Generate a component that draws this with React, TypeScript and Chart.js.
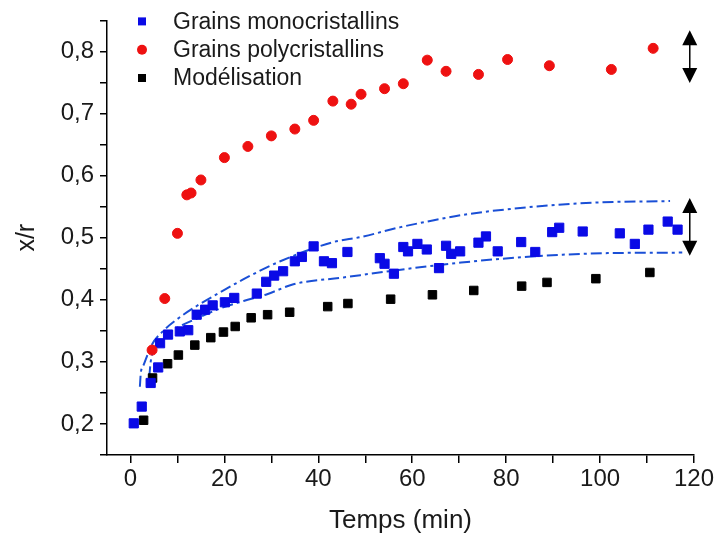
import React, { useEffect, useRef } from 'react';
import { Chart, registerables } from 'chart.js';

Chart.register(...registerables);

const FONT = '"Liberation Sans", Arial, Helvetica, sans-serif';

// Series labels
const monoLabel = 'Grains monocristallins';
const polyLabel = 'Grains polycristallins';
const modelLabel = 'Modélisation';

// Grains monocristallins (blue squares)
const monoX = [0.7, 2.4, 4.3, 5.9, 6.3, 8.0, 10.5, 12.3, 14.1, 15.9, 17.5, 20.1, 22.1, 26.9, 28.9, 30.6, 32.5, 35.0, 36.5, 39.0, 41.2, 42.9, 46.2, 53.1, 54.1, 56.1, 58.1, 59.1, 61.1, 63.1, 65.7, 67.2, 68.3, 70.2, 74.1, 75.7, 78.2, 83.2, 86.2, 89.8, 91.3, 96.3, 104.2, 107.4, 110.3, 114.4, 116.5];
const monoY = [0.201, 0.228, 0.266, 0.291, 0.330, 0.344, 0.349, 0.351, 0.376, 0.384, 0.391, 0.396, 0.403, 0.410, 0.429, 0.439, 0.446, 0.462, 0.469, 0.486, 0.462, 0.459, 0.477, 0.467, 0.458, 0.442, 0.485, 0.478, 0.490, 0.481, 0.451, 0.487, 0.474, 0.478, 0.492, 0.502, 0.478, 0.493, 0.477, 0.509, 0.516, 0.510, 0.507, 0.490, 0.513, 0.526, 0.513];

// Grains polycristallins (red circles)
const polyX = [4.6, 7.3, 10.0, 12.0, 12.9, 15.0, 20.0, 25.0, 30.0, 35.0, 39.0, 43.1, 47.0, 49.1, 54.1, 58.1, 63.2, 67.2, 74.1, 80.3, 89.2, 102.4, 111.3];
const polyY = [0.319, 0.402, 0.507, 0.569, 0.572, 0.593, 0.629, 0.647, 0.664, 0.675, 0.689, 0.720, 0.715, 0.731, 0.740, 0.748, 0.786, 0.768, 0.763, 0.787, 0.777, 0.771, 0.805];

// Modélisation (black squares)
const modelX = [2.8, 4.7, 7.9, 10.2, 13.7, 17.1, 19.8, 22.3, 25.7, 29.2, 33.9, 42.0, 46.3, 55.4, 64.3, 73.1, 83.3, 88.7, 99.1, 110.6];
const modelY = [0.206, 0.274, 0.297, 0.311, 0.327, 0.339, 0.348, 0.357, 0.371, 0.376, 0.380, 0.389, 0.394, 0.401, 0.408, 0.415, 0.422, 0.428, 0.434, 0.444];

// Dash-dot envelope curves
const upperX = [2.0, 2.2, 2.8, 4.5, 7.0, 9.8, 14.1, 19.1, 24.8, 31.9, 43.2, 49.0, 57.5, 63.2, 71.9, 86.1, 100.4, 114.9];
const upperY = [0.260, 0.282, 0.295, 0.327, 0.350, 0.368, 0.390, 0.412, 0.436, 0.462, 0.493, 0.501, 0.517, 0.526, 0.538, 0.550, 0.557, 0.559];
const lowerX = [4.0, 4.3, 5.5, 7.0, 9.1, 14.8, 19.1, 24.1, 29.1, 34.7, 45.4, 56.1, 70.4, 86.1, 100.4, 117.5];
const lowerY = [0.275, 0.300, 0.325, 0.338, 0.351, 0.372, 0.386, 0.398, 0.409, 0.425, 0.436, 0.447, 0.460, 0.470, 0.475, 0.476];

// Double arrows on the right (x position, [low, high])
const arrowX = 119.1;
const arrowRanges = [[0.749, 0.834], [0.471, 0.564]];

// Axes
const xMin = -5;
const xMax = 120;
const yMin = 0.15;
const yMax = 0.85;
const xTickValues = [0, 10, 20, 30, 40, 50, 60, 70, 80, 90, 100, 110, 120];
const xMajor = [0, 20, 40, 60, 80, 100, 120];
const xLabels = ['0', '20', '40', '60', '80', '100', '120'];
const yTickValues = [0.15, 0.2, 0.25, 0.3, 0.35, 0.4, 0.45, 0.5, 0.55, 0.6, 0.65, 0.7, 0.75, 0.8, 0.85];
const yMajor = [0.2, 0.3, 0.4, 0.5, 0.6, 0.7, 0.8];
const yLabels = ['0,2', '0,3', '0,4', '0,5', '0,6', '0,7', '0,8'];
const xTitle = 'Temps (min)';
const yTitle = 'x/r';

const BLUE = '#0a0ae6';
const RED = '#ee1111';
const BLACK = '#000000';
const CURVE = '#1a4fd6';
const TEXT = '#1a1a1a';

const pts = (xs: number[], ys: number[]) => xs.map((x, i) => ({ x, y: ys[i] }));
const labelFor = (v: number, majors: number[], labels: string[]) => {
  const i = majors.findIndex((m) => Math.abs(m - v) < 1e-6);
  return i >= 0 ? labels[i] : '';
};

export default function App() {
  const ref = useRef<HTMLCanvasElement>(null);

  useEffect(() => {
    const canvas = ref.current;
    if (!canvas) return;

    const legendPlugin = {
      id: 'inlineLegend',
      afterDraw(chart: any) {
        const { ctx, chartArea } = chart;
        const items = chart.data.datasets.filter((d: any) => d.inLegend);
        ctx.save();
        ctx.font = `23px ${FONT}`;
        ctx.textBaseline = 'middle';
        ctx.textAlign = 'left';
        items.forEach((d: any, i: number) => {
          const cx = chartArea.left + 35;
          const cy = chartArea.top + 1 + i * 28.3;
          ctx.fillStyle = d.backgroundColor;
          if (d.pointStyle === 'circle') {
            ctx.beginPath();
            ctx.arc(cx, cy, 5, 0, Math.PI * 2);
            ctx.fill();
          } else {
            ctx.fillRect(cx - 4, cy - 4, 8, 8);
          }
          ctx.fillStyle = TEXT;
          ctx.fillText(d.label, chartArea.left + 66, cy + 1);
        });
        ctx.restore();
      },
    };

    const arrowPlugin = {
      id: 'doubleArrows',
      afterDraw(chart: any) {
        const { ctx } = chart;
        const xs = chart.scales.x;
        const ys = chart.scales.y;
        const px = xs.getPixelForValue(arrowX);
        ctx.save();
        ctx.strokeStyle = '#000';
        ctx.fillStyle = '#000';
        ctx.lineWidth = 1.5;
        arrowRanges.forEach(([lo, hi]) => {
          const top = ys.getPixelForValue(hi);
          const bot = ys.getPixelForValue(lo);
          const hh = 15;
          const hw = 7.5;
          ctx.beginPath();
          ctx.moveTo(px, top + hh - 1);
          ctx.lineTo(px, bot - hh + 1);
          ctx.stroke();
          ctx.beginPath();
          ctx.moveTo(px, top);
          ctx.lineTo(px - hw, top + hh);
          ctx.lineTo(px + hw, top + hh);
          ctx.closePath();
          ctx.fill();
          ctx.beginPath();
          ctx.moveTo(px, bot);
          ctx.lineTo(px - hw, bot - hh);
          ctx.lineTo(px + hw, bot - hh);
          ctx.closePath();
          ctx.fill();
        });
        ctx.restore();
      },
    };

    const chart = new Chart(canvas, {
      type: 'scatter',
      data: {
        datasets: [
          {
            label: monoLabel,
            data: pts(monoX, monoY),
            pointStyle: 'rect',
            pointRadius: 6.5,
            backgroundColor: BLUE,
            borderColor: BLUE,
            borderWidth: 1,
            order: 1,
            inLegend: true,
          } as any,
          {
            label: polyLabel,
            data: pts(polyX, polyY),
            pointStyle: 'circle',
            pointRadius: 5,
            backgroundColor: RED,
            borderColor: RED,
            borderWidth: 1,
            order: 0,
            inLegend: true,
          } as any,
          {
            label: modelLabel,
            data: pts(modelX, modelY),
            pointStyle: 'rect',
            pointRadius: 6,
            backgroundColor: BLACK,
            borderColor: BLACK,
            borderWidth: 1,
            order: 2,
            inLegend: true,
          } as any,
          {
            label: 'upper',
            data: pts(upperX, upperY),
            showLine: true,
            pointRadius: 0,
            borderColor: CURVE,
            borderWidth: 2,
            borderDash: [11, 4, 3, 4],
            cubicInterpolationMode: 'monotone',
            fill: false,
            order: 3,
          } as any,
          {
            label: 'lower',
            data: pts(lowerX, lowerY),
            showLine: true,
            pointRadius: 0,
            borderColor: CURVE,
            borderWidth: 2,
            borderDash: [11, 4, 3, 4],
            cubicInterpolationMode: 'monotone',
            fill: false,
            order: 3,
          } as any,
        ],
      },
      options: {
        responsive: false,
        animation: false,
        layout: { padding: { top: 19, right: 31, left: 0, bottom: 0 } },
        plugins: {
          legend: { display: false },
          tooltip: { enabled: false },
        },
        scales: {
          x: {
            type: 'linear',
            min: xMin,
            max: xMax,
            afterBuildTicks: (axis: any) => {
              axis.ticks = xTickValues.map((v) => ({ value: v }));
            },
            afterFit: (axis: any) => {
              axis.height = 84;
            },
            ticks: {
              autoSkip: false,
              maxRotation: 0,
              padding: 2,
              color: TEXT,
              font: { family: FONT, size: 24 },
              callback: (v: any) => labelFor(Number(v), xMajor, xLabels),
            },
            grid: {
              display: true,
              drawOnChartArea: false,
              drawTicks: true,
              tickLength: 8,
              color: '#000',
              lineWidth: 1.5,
            },
            border: { display: true, color: '#000', width: 1.5 },
            title: {
              display: true,
              text: xTitle,
              color: TEXT,
              font: { family: FONT, size: 26 },
              padding: { top: 0, bottom: 3 },
            },
          },
          y: {
            type: 'linear',
            min: yMin,
            max: yMax,
            afterBuildTicks: (axis: any) => {
              axis.ticks = yTickValues.map((v) => ({ value: v }));
            },
            afterFit: (axis: any) => {
              axis.width = 107;
            },
            ticks: {
              autoSkip: false,
              padding: 6,
              color: TEXT,
              font: { family: FONT, size: 24 },
              callback: (v: any) => labelFor(Number(v), yMajor, yLabels),
            },
            grid: {
              display: true,
              drawOnChartArea: false,
              drawTicks: true,
              tickLength: 7,
              color: '#000',
              lineWidth: 1.5,
            },
            border: { display: true, color: '#000', width: 1.5 },
            title: {
              display: true,
              text: yTitle,
              color: TEXT,
              font: { family: FONT, size: 25 },
              padding: { top: 12, bottom: 0 },
            },
          },
        },
      } as any,
      plugins: [legendPlugin, arrowPlugin],
    });

    return () => chart.destroy();
  }, []);

  return (
    <div style={{ position: 'fixed', left: 0, top: 0, width: 725, height: 539, background: '#fff' }}>
      <canvas ref={ref} width={725} height={539} style={{ display: 'block', width: 725, height: 539 }} />
    </div>
  );
}
